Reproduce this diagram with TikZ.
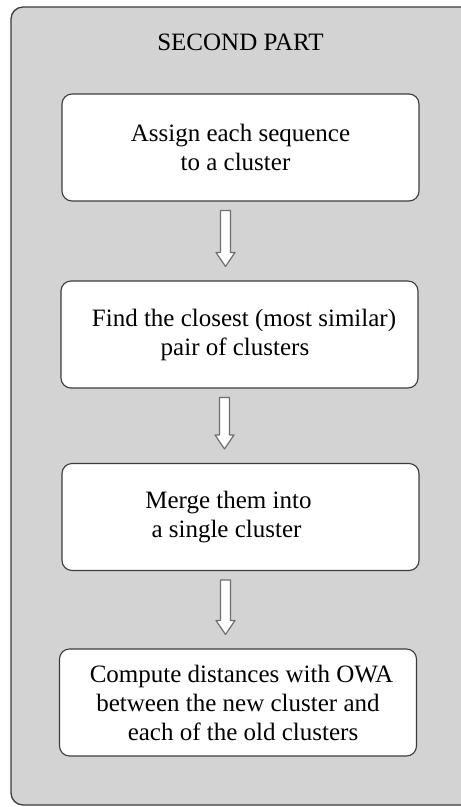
\documentclass[tikz,border=0pt]{standalone}
\usepackage{fontspec}
\setmainfont{Liberation Serif}
\usetikzlibrary{calc}
\definecolor{panelgray}{RGB}{211,211,211}
\definecolor{edgegray}{RGB}{60,60,60}
\definecolor{arrowgray}{RGB}{110,110,110}
\tikzset{
  panel/.style={fill=panelgray, draw=edgegray, line width=1.3pt, rounded corners=12pt},
  stepbox/.style={fill=white, draw=edgegray, line width=1.1pt, rounded corners=10pt,
    minimum width=357pt, minimum height=107pt, inner sep=0pt, align=center,
    font=\fontsize{25}{29}\selectfont},
  titletext/.style={font=\fontsize{25}{29}\selectfont, inner sep=0pt, anchor=base},
  hollow/.style={fill=white, draw=arrowgray, line width=1.2pt, line join=round}
}
\newcommand{\hollowarrow}[2]{%
  \draw[hollow] let \p1=($(#1.south)+(-15,9)$), \p2=($(#2.north)+(-15,-14)$) in
    (\x1-5pt,\y1) -- (\x1+5pt,\y1) -- (\x1+5pt,\y2+14pt) -- (\x1+9.5pt,\y2+14pt)
    -- (\x1,\y2) -- (\x1-9.5pt,\y2+14pt) -- (\x1-5pt,\y2+14pt) -- cycle;}
\begin{document}
\begin{tikzpicture}[x=1pt,y=-1pt]
\useasboundingbox (0,0) rectangle (461,807);
\draw[panel] (11,7) rectangle (480,805);
\node[titletext] (title) at (240.5,50) {SECOND PART};
\node[stepbox] (b1) at (240.5,147.5) {Assign each sequence\\ to a cluster\hspace*{10pt}};
\node[stepbox] (b2) at (239.5,334.5) {\hspace*{9pt}Find the closest (most similar)\\ pair of clusters\hspace*{9pt}};
\node[stepbox] (b3) at (240.5,517) {Merge them into\hspace*{24pt}\\ a single cluster\hspace*{28pt}};
\node[stepbox] (b4) at (238,702.5) {\hspace*{7pt}Compute distances with OWA\\ between the new cluster and\hspace*{3pt}\\ \hspace*{10pt}each of the old clusters};
\hollowarrow{b1}{b2}
\hollowarrow{b2}{b3}
\hollowarrow{b3}{b4}
\end{tikzpicture}
\end{document}
